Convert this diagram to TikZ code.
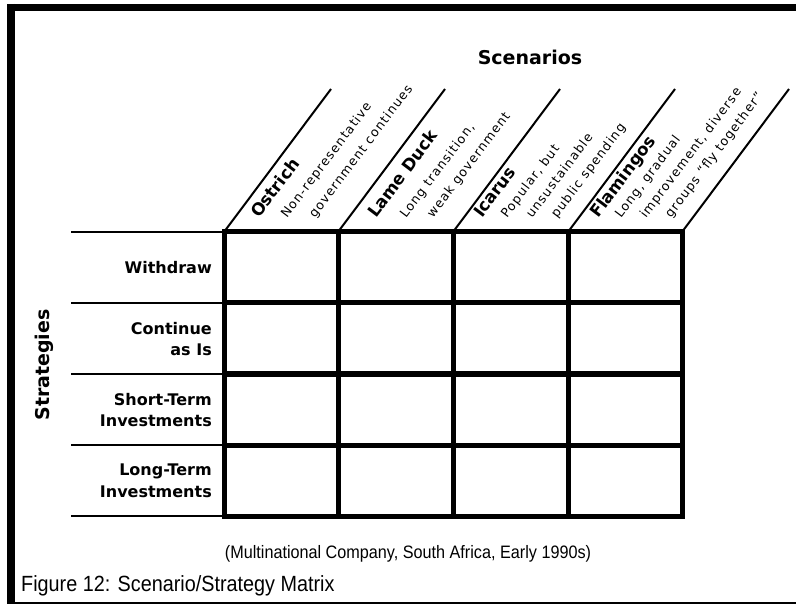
\documentclass[tikz,border=0pt]{standalone}
\usepackage{fontspec}
\setmainfont{DejaVu Sans}
\newfontfamily\descfont[LetterSpace=9]{DejaVu Sans}
\newfontfamily\capfont[FakeStretch=0.9]{Liberation Sans}
\begin{document}
\begin{tikzpicture}[x=1pt,y=-1pt]

		\tikzstyle{heading}=[font=\fontsize{19}{23}\selectfont\bfseries,inner sep=0mm]
		\tikzstyle{strategy}=[font=\fontsize{16}{21.5}\selectfont\bfseries,
			align=right,anchor=east,inner sep=0mm]
		\tikzstyle{scenario}=[font=\fontsize{16.8}{20}\selectfont\bfseries,
			rotate=53,anchor=base west,inner sep=0mm]
		\tikzstyle{descr}=[font=\descfont\fontsize{12.6}{14}\selectfont,
			rotate=53,anchor=base west,inner sep=0mm]
		\tikzstyle{frame}=[draw=black,line width=7.5pt]
		\tikzstyle{cell}=[draw=black,line width=5pt,line cap=rect]
		\tikzstyle{guide}=[draw=black,line width=2pt]

		\useasboundingbox (0,0) rectangle (796,604);

		% frame
		\draw[frame]	(7,7.5)	--	(796,7.5);
		\draw[frame,line width=8pt]	(11,4)	--	(11,604);
		\draw[frame,line width=2.5pt]	(7,603)	--	(796,603);

		% titles
		\node[heading,anchor=base]	(scenarios)	at (530,65)	{Scenarios};
		\node[heading,rotate=90]	(strategies)	at (44,365)	{Strategies};

		% guides on the left
		\draw[guide]	(71,232)	--	(224,232);
		\draw[guide]	(71,303)	--	(224,303);
		\draw[guide]	(71,374)	--	(224,374);
		\draw[guide]	(71,445)	--	(224,445);
		\draw[guide]	(71,516)	--	(224,516);

		% slanted heads of the columns
		\draw[guide]	(224,232)	--	++(107,-143);
		\draw[guide]	(338,232)	--	++(107,-143);
		\draw[guide]	(453,232)	--	++(107,-143);
		\draw[guide]	(568,232)	--	++(107,-143);
		\draw[guide]	(682,232)	--	++(107,-143);

		% matrix
		\draw[cell]	(224,232)	--	(682,232);
		\draw[cell]	(224,303)	--	(682,303);
		\draw[cell]	(224,374)	--	(682,374);
		\draw[cell]	(224,445)	--	(682,445);
		\draw[cell]	(224,516)	--	(682,516);
		\draw[cell]	(224,232)	--	(224,516);
		\draw[cell]	(338,232)	--	(338,516);
		\draw[cell]	(453,232)	--	(453,516);
		\draw[cell]	(568,232)	--	(568,516);
		\draw[cell]	(682,232)	--	(682,516);

		% strategies
		\node[strategy]	(withdraw)	at (212,268)	{Withdraw};
		\node[strategy]	(continue)	at (212,339)	{Continue\\ as Is};
		\node[strategy]	(short-t)	at (212,410)	{Short-Term\\ Investments};
		\node[strategy]	(long-t)	at (212,481)	{Long-Term\\ Investments};

		% scenarios
		\node[scenario]	(ostrich)	at (259,219)	{Ostrich};
		\node[descr]	(ostrich-a)	at (287,219)	{Non-representative};
		\node[descr]	(ostrich-b)	at (315,219)	{government continues};

		\node[scenario]	(lame-duck)	at (376,219)	{Lame Duck};
		\node[descr]	(lame-duck-a)	at (406,219)	{Long transition,};
		\node[descr]	(lame-duck-b)	at (433,219)	{weak government};

		\node[scenario]	(icarus)	at (482,219)	{Icarus};
		\node[descr]	(icarus-a)	at (507,219)	{Popular, but};
		\node[descr]	(icarus-b)	at (532,219)	{unsustainable};
		\node[descr]	(icarus-c)	at (557,219)	{public spending};

		\node[scenario]	(flamingos)	at (598,219)	{Flamingos};
		\node[descr]	(flamingos-a)	at (621,219)	{Long, gradual};
		\node[descr]	(flamingos-b)	at (646,219)	{improvement, diverse};
		\node[descr]	(flamingos-c)	at (671,219)	{groups “fly together”};

		% captions
		\node[font=\capfont\fontsize{18}{21}\selectfont,anchor=base,inner sep=0mm]	(source)	at (408,558)	{(Multinational Company, South Africa, Early 1990s)};
		\node[font=\capfont\fontsize{22}{26}\selectfont,anchor=base west,inner sep=0mm]	(caption)	at (21,591)	{Figure 12: Scenario/Strategy Matrix};

	\end{tikzpicture}
\end{document}
